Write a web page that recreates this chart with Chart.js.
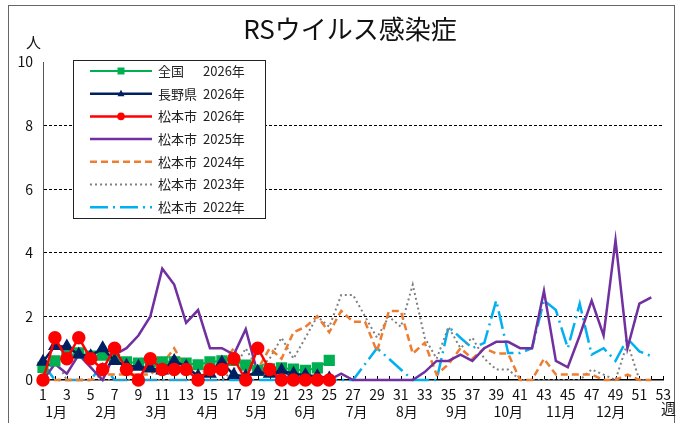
<!DOCTYPE html>
<html lang="ja">
<head>
<meta charset="utf-8">
<title>RSウイルス感染症</title>
<script src="https://cdn.jsdelivr.net/npm/chart.js@4.4.1/dist/chart.umd.min.js"></script>
<style>
    html, body { margin: 0; padding: 0; background: #fff; }
    body {
        width: 677px; height: 423px; overflow: hidden; position: relative;
        font-family: "Noto Sans CJK JP", "Noto Sans", sans-serif; color: #111;
    }
    #frame {
        position: absolute; left: 8px; top: 5px; width: 667px; height: 440px;
        border: 1.5px solid #666; box-sizing: border-box;
    }
    #chart { position: absolute; left: 0; top: 0; }
    #title {
        position: absolute; left: 0; top: 12px; width: 700px;
        text-align: center; font-size: 26px; line-height: 32px;
    }
    .unit { position: absolute; font-size: 15px; line-height: 16px; }
</style>
</head>
<body>
<div id="frame"></div>
<canvas id="chart" width="677" height="423"></canvas>
<div id="title">RSウイルス感染症</div>
<div class="unit" style="left:26px; top:34px;">人</div>
<div class="unit" style="left:661px; top:400px;">週</div>
<script>
// Data (weekly reports per sentinel)
const zenkoku2026 = [0.4, 0.6, 0.75, 0.85, 0.75, 0.78, 0.65, 0.57, 0.53, 0.57, 0.57, 0.57, 0.53,
    0.48, 0.57, 0.6, 0.62, 0.47, 0.3, 0.35, 0.38, 0.34, 0.3, 0.38, 0.62];
const nagano2026 = [0.57, 1.07, 1.05, 0.8, 0.75, 1.0, 0.6, 0.45, 0.42, 0.36, 0.3, 0.6, 0.42,
    0.12, 0.2, 0.55, 0.16, 0.12, 0.26, 0.2, 0.3, 0.2, 0.15, 0.12, 0.05];
const matsumoto2026 = [0, 1.33, 0.67, 1.33, 0.67, 0.33, 1.0, 0.33, 0, 0.67, 0.33, 0.33, 0.33,
    0, 0.33, 0.33, 0.67, 0, 1.0, 0.33, 0, 0, 0, 0, 0];
const matsumoto2025 = [0, 0.5, 0.2, 0.8, 0.4, 0, 0.8, 1.0, 1.4, 2.0, 3.5, 3.0, 1.8,
    2.2, 1.0, 1.0, 0.8, 1.6, 0.2, 0.25, 0.4, 0, 0, 0, 0, 0.2,
    0, 0, 0, 0, 0, 0, 0.25, 0.6, 0.6, 0.8, 0.6, 1.0, 1.2,
    1.2, 1.0, 1.0, 2.8, 0.6, 0.4, 1.4, 2.5, 1.4, 4.4, 1.0, 2.4, 2.6];
const matsumoto2024 = [0, 0, 0, 0, 0, 0.17, 0.17, 0.17, 0.17, 0.17, 0.5, 1.0, 0.33,
    0.17, 0.33, 0.5, 1.0, 0.17, 0.33, 1.0, 0.67, 1.5, 1.67, 2.0, 1.5, 2.17,
    1.83, 1.83, 0.9, 2.17, 2.17, 0.83, 1.17, 0.17, 0.5, 1.0, 0.67, 1.0, 0.83,
    0.83, 0, 0, 0.67, 0.17, 0.17, 0.17, 0.17, 0, 0, 0.17, 0, 0];
const matsumoto2023 = [0, 0.67, 0, 0, 0, 0, 0, 0, 0, 0, 0, 0, 0,
    0, 0, 0, 0.33, 1.0, 0.33, 0.67, 1.33, 0.67, 1.33, 2.0, 1.67, 2.67,
    2.67, 2.0, 1.33, 2.0, 1.67, 3.0, 1.33, 0.67, 1.67, 1.0, 1.33, 0.67, 0.33,
    0.33, 0, 0, 0, 0, 0, 0, 0.33, 0.17, 0, 1.17, 0, 0];
const matsumoto2022 = [0.5, 0, 0, 0, 0, 0.5, 0, 0, 0, 0, 0, 0, 0,
    0, 0, 0, 0, 0, 0, 0, 0, 0, 0, 0, 0, 0,
    0, 0.5, 1.0, 0.67, 0.33, 0, 0, 0, 1.67, 1.33, 1.0, 1.17, 2.5,
    0.85, 0.85, 1.0, 2.5, 2.2, 1.0, 2.4, 0.8, 1.0, 0.6, 1.3, 0.9, 0.75];

// Legend text
const legendNames = ['全国', '長野県', '松本市', '松本市', '松本市', '松本市', '松本市'];
const legendYears = ['2026年', '2026年', '2026年', '2025年', '2024年', '2023年', '2022年'];

// Axis labels
const yTicks = [0, 2, 4, 6, 8, 10];
const monthLabels = ['1月', '2月', '3月', '4月', '5月', '6月', '7月', '8月', '9月', '10月', '11月', '12月'];
const monthWeeks = [2.1, 6.3, 10.5, 14.8, 18.9, 23.0, 27.3, 31.5, 35.7, 40.0, 44.4, 48.6];
const lastWeek = 53;

const FONT = '"Noto Sans CJK JP", "Noto Sans", sans-serif';

const toPoints = (values) => values.map((v, i) => ({ x: i + 1, y: v }));

const makeSet = (values, color, extra) => Object.assign({
    data: toPoints(values),
    borderColor: color,
    backgroundColor: color,
    borderWidth: 2.5,
    pointRadius: 0,
    tension: 0,
    clip: false
}, extra);

const datasets = [
    makeSet(zenkoku2026, '#00b050', { pointStyle: 'rect', pointRadius: 6.5, borderWidth: 2, order: 2 }),
    makeSet(nagano2026, '#002060', { pointStyle: 'triangle', pointRadius: 5.5, order: 1 }),
    makeSet(matsumoto2026, '#ff0000', { pointStyle: 'circle', pointRadius: 5.5, order: 0 }),
    makeSet(matsumoto2025, '#7030a0', { order: 3 }),
    makeSet(matsumoto2024, '#ed7d31', { borderDash: [7, 4], order: 4 }),
    makeSet(matsumoto2023, '#808080', { borderDash: [2, 3], borderWidth: 2, order: 5 }),
    makeSet(matsumoto2022, '#00b0f0', { borderDash: [18, 5, 2, 5], order: 6 })
];

// Small tick marks pointing up from the x axis, one per week
const innerTicks = {
    id: 'innerTicks',
    beforeDatasetsDraw(chart) {
        const { ctx, scales: { x }, chartArea } = chart;
        ctx.save();
        ctx.strokeStyle = '#000';
        ctx.lineWidth = 1;
        for (let w = 1; w <= lastWeek; w++) {
            const px = Math.round(x.getPixelForValue(w)) + 0.5;
            ctx.beginPath();
            ctx.moveTo(px, chartArea.bottom);
            ctx.lineTo(px, chartArea.bottom - 4);
            ctx.stroke();
        }
        ctx.restore();
    }
};

// Month names under the week numbers
const monthRow = {
    id: 'monthRow',
    afterDraw(chart) {
        const { ctx, scales: { x } } = chart;
        ctx.save();
        ctx.font = '14px ' + FONT;
        ctx.fillStyle = '#111';
        ctx.textAlign = 'center';
        ctx.textBaseline = 'middle';
        monthLabels.forEach((m, i) => {
            ctx.fillText(m, x.getPixelForValue(monthWeeks[i]), 412);
        });
        ctx.restore();
    }
};

// Boxed legend inside the plot, top-left
const boxLegend = {
    id: 'boxLegend',
    afterDraw(chart) {
        const { ctx, chartArea } = chart;
        const left = chartArea.left + 30, top = chartArea.top - 2;
        const w = 192, h = 158, rowH = 22.7;
        ctx.save();
        ctx.fillStyle = '#fff';
        ctx.fillRect(left, top, w, h);
        ctx.strokeStyle = '#222';
        ctx.lineWidth = 1;
        ctx.strokeRect(left + 0.5, top + 0.5, w, h);
        datasets.forEach((ds, i) => {
            const cy = top + 11 + i * rowH;
            const x0 = left + 17, x1 = left + 79, cx = (x0 + x1) / 2;
            ctx.save();
            ctx.strokeStyle = ds.borderColor;
            ctx.lineWidth = ds.borderWidth;
            ctx.setLineDash(ds.borderDash || []);
            ctx.beginPath();
            ctx.moveTo(x0, cy);
            ctx.lineTo(x1, cy);
            ctx.stroke();
            ctx.setLineDash([]);
            ctx.fillStyle = ds.borderColor;
            if (ds.pointStyle === 'rect') {
                ctx.fillRect(cx - 3.5, cy - 3.5, 7, 7);
            } else if (ds.pointStyle === 'triangle') {
                ctx.beginPath();
                ctx.moveTo(cx, cy - 4);
                ctx.lineTo(cx + 3.5, cy + 2.5);
                ctx.lineTo(cx - 3.5, cy + 2.5);
                ctx.closePath();
                ctx.fill();
            } else if (ds.pointStyle === 'circle') {
                ctx.beginPath();
                ctx.arc(cx, cy, 3.8, 0, Math.PI * 2);
                ctx.fill();
            }
            ctx.restore();
            ctx.fillStyle = '#222';
            ctx.font = '13px ' + FONT;
            ctx.textBaseline = 'middle';
            ctx.fillText(legendNames[i], left + 85, cy);
            ctx.fillText(legendYears[i], left + 130, cy);
        });
        ctx.restore();
    }
};

const ctx = document.getElementById('chart').getContext('2d');
new Chart(ctx, {
    type: 'line',
    data: { datasets: datasets },
    options: {
        responsive: false,
        animation: false,
        layout: { padding: { left: 0, right: 12, top: 62, bottom: 0 } },
        plugins: {
            legend: { display: false },
            tooltip: { enabled: false }
        },
        scales: {
            x: {
                type: 'linear',
                min: 1,
                max: lastWeek,
                grid: { display: false, drawTicks: false },
                border: { display: true, color: '#000', width: 1.5 },
                ticks: {
                    stepSize: 2,
                    autoSkip: false,
                    maxRotation: 0,
                    padding: 6,
                    color: '#111',
                    font: { family: FONT, size: 14 }
                },
                afterFit: (scale) => { scale.height = 43; }
            },
            y: {
                min: 0,
                max: 10,
                afterBuildTicks: (scale) => { scale.ticks = yTicks.map(v => ({ value: v })); },
                grid: {
                    drawTicks: false,
                    lineWidth: 1,
                    color: (c) => (c.tick && (c.tick.value === 0 || c.tick.value === 10)) ? 'rgba(0,0,0,0)' : '#000'
                },
                border: { display: true, color: '#555', width: 1, dash: [3, 2] },
                ticks: {
                    padding: 10,
                    color: '#111',
                    font: { family: FONT, size: 14 }
                },
                afterFit: (scale) => { scale.width = 43; }
            }
        }
    },
    plugins: [innerTicks, monthRow, boxLegend]
});
</script>
</body>
</html>
